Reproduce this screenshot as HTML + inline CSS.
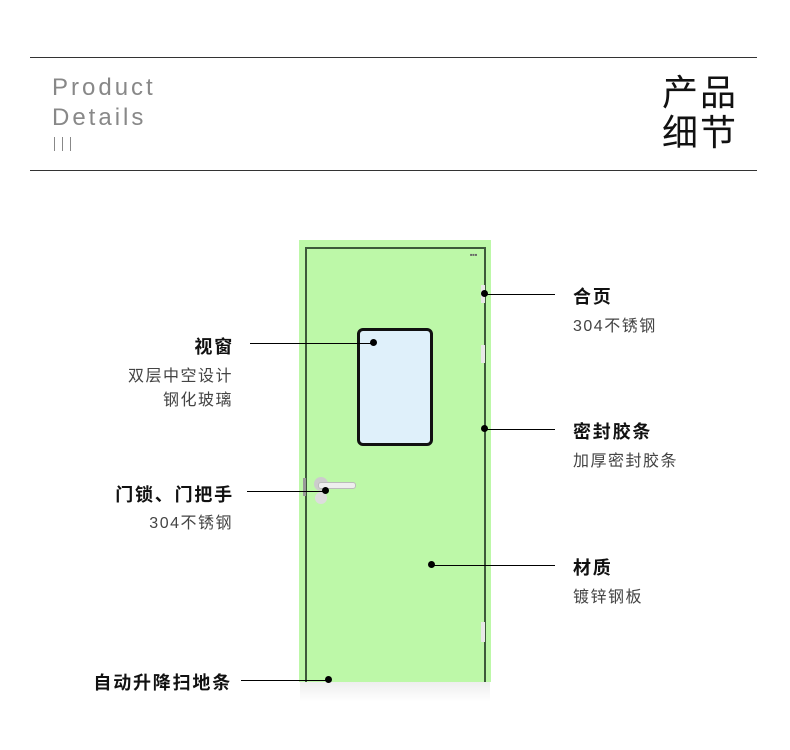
<!DOCTYPE html>
<html><head><meta charset="utf-8"><style>
body{margin:0;width:790px;height:750px;background:#fff;position:relative;overflow:hidden;font-family:"Liberation Sans","Noto Sans CJK SC",sans-serif}
.a{position:absolute}
.hl{position:absolute;left:30px;width:727px;height:1px;background:#333}
.en{position:absolute;left:52px;font-size:24px;letter-spacing:3px;color:#888;font-weight:300}
.t{position:absolute;font-size:18px;letter-spacing:1.8px;font-weight:bold;color:#111;white-space:nowrap}
.s{position:absolute;font-size:16px;letter-spacing:1.5px;color:#444;white-space:nowrap}
.r{right:557px;text-align:right}
.ln{position:absolute;height:1px;background:#000}
.d{position:absolute;width:7px;height:7px;border-radius:50%;background:#000}
</style></head><body>
<div class="hl" style="top:57px"></div>
<div class="hl" style="top:170px"></div>
<div class="en" style="top:74px">Product</div>
<div class="en" style="top:104px">Details</div>
<div class="a" style="left:54px;top:137px;width:1px;height:14px;background:#888"></div>
<div class="a" style="left:62px;top:137px;width:1px;height:14px;background:#888"></div>
<div class="a" style="left:70px;top:137px;width:1px;height:14px;background:#888"></div>
<div class="a" style="left:662px;top:73px;font-size:36px;line-height:40px;color:#111;letter-spacing:2px">产品<br>细节</div>

<!-- door -->
<div class="a" style="left:299px;top:240px;width:192px;height:442px;background:#bdf8a8"></div>
<div class="a" style="left:305px;top:247px;width:177px;height:433px;border:2px solid #3d5a3a;border-bottom:3px solid #111"></div>
<div class="a" style="left:300px;top:682px;width:190px;height:20px;background:linear-gradient(#eee,#fff)"></div>
<div class="a" style="left:357px;top:328px;width:70px;height:112px;background:#dff0fa;border:3px solid #111;border-radius:6px"></div>
<div class="a" style="left:481px;top:285px;width:4px;height:18px;background:#e8e8e8"></div>
<div class="a" style="left:481px;top:345px;width:4px;height:18px;background:#e8e8e8"></div>
<div class="a" style="left:481px;top:622px;width:4px;height:20px;background:#e8e8e8"></div>
<div class="a" style="left:303px;top:478px;width:3px;height:18px;background:#999"></div>
<div class="a" style="left:314px;top:477px;width:14px;height:14px;border-radius:50%;background:#ccc"></div>
<div class="a" style="left:318px;top:482px;width:36px;height:5px;border-radius:3px;background:#eee;border:1px solid #bbb"></div>
<div class="a" style="left:315px;top:492px;width:12px;height:12px;border-radius:50%;background:#ddd"></div>
<div class="a" style="left:470px;top:252px;font-size:4px;color:#666">■■■</div>

<!-- callouts -->
<div class="d" style="left:481px;top:290px"></div><div class="ln" style="left:485px;top:294px;width:70px"></div>
<div class="t" style="left:573px;top:283px">合页</div><div class="s" style="left:573px;top:312px">304不锈钢</div>

<div class="d" style="left:370px;top:339px"></div><div class="ln" style="left:250px;top:343px;width:122px"></div>
<div class="t r" style="top:333px;right:556px">视窗</div>
<div class="s r" style="top:362px">双层中空设计</div><div class="s r" style="top:386px">钢化玻璃</div>

<div class="d" style="left:481px;top:425px"></div><div class="ln" style="left:485px;top:429px;width:70px"></div>
<div class="t" style="left:573px;top:418px">密封胶条</div><div class="s" style="left:573px;top:447px">加厚密封胶条</div>

<div class="d" style="left:322px;top:487px"></div><div class="ln" style="left:247px;top:491px;width:77px"></div>
<div class="t r" style="top:481px;right:556px">门锁、门把手</div><div class="s r" style="top:509px">304不锈钢</div>

<div class="d" style="left:428px;top:561px"></div><div class="ln" style="left:432px;top:565px;width:123px"></div>
<div class="t" style="left:573px;top:554px">材质</div><div class="s" style="left:573px;top:583px">镀锌钢板</div>

<div class="d" style="left:325px;top:676px"></div><div class="ln" style="left:241px;top:680px;width:86px"></div>
<div class="t r" style="top:669px;right:558px">自动升降扫地条</div>
</body></html>
